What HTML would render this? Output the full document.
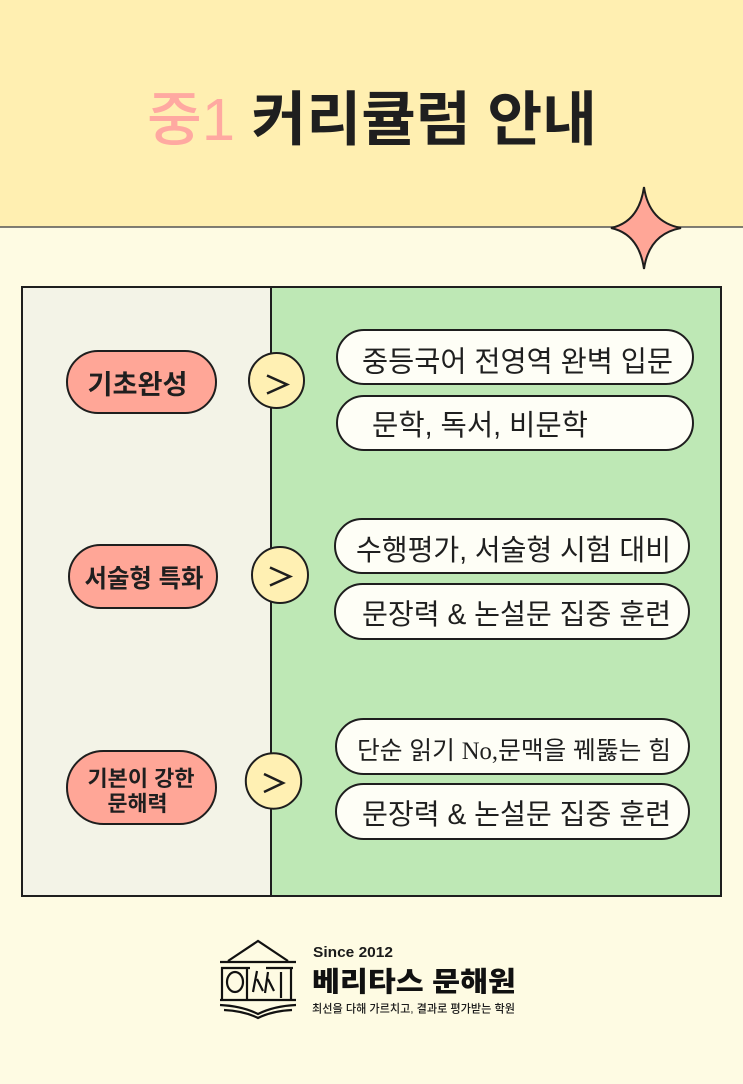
<!DOCTYPE html>
<html><head><meta charset="utf-8"><style>
html,body{margin:0;padding:0;width:743px;height:1084px;overflow:hidden;background:#FEFBE3}
svg{display:block}
text{font-family:"Liberation Sans","Noto Sans CJK KR",sans-serif}
</style></head><body>
<svg width="743" height="1084" viewBox="0 0 743 1084" xmlns="http://www.w3.org/2000/svg">
<rect x="0" y="0" width="743" height="1084" fill="#FEFBE3"/>
<rect x="0" y="0" width="743" height="227" fill="#FFEFB1"/>
<line x1="0" y1="227" x2="743" y2="227" stroke="#555" stroke-width="1.5"/>

<text x="147" y="140" font-size="59" textLength="450" lengthAdjust="spacingAndGlyphs"><tspan fill="#FFA9A1" font-weight="500">중1</tspan><tspan fill="#1f1f1f" font-weight="700"> 커리큘럼 안내</tspan></text>

<path d="M644,187 Q649,222 681,228 Q649,234 644,269 Q639,234 611,228 Q639,222 644,187 Z" fill="#FFA697" stroke="#1e1e1e" stroke-width="2" stroke-linejoin="miter"/>

<rect x="22" y="287" width="249" height="609" fill="#F3F3E7"/>
<rect x="271" y="287" width="450" height="609" fill="#BEE8B5"/>
<rect x="22" y="287" width="699" height="609" fill="none" stroke="#1e1e1e" stroke-width="2"/>
<line x1="271" y1="287" x2="271" y2="896" stroke="#1e1e1e" stroke-width="2"/>

<g fill="#FFA697" stroke="#1e1e1e" stroke-width="2">
<rect x="67" y="351" width="149" height="62" rx="31"/>
<rect x="69" y="545" width="148" height="63" rx="31.5"/>
<rect x="67" y="751" width="149" height="73" rx="36.5"/>
</g>
<g fill="#1f1f1f" font-weight="700">
<text x="87.5" y="394" font-size="27" textLength="100" lengthAdjust="spacingAndGlyphs">기초완성</text>
<text x="84.5" y="587" font-size="25" textLength="119" lengthAdjust="spacingAndGlyphs">서술형 특화</text>
<text x="87.5" y="786" font-size="21.5" textLength="107" lengthAdjust="spacingAndGlyphs">기본이 강한</text>
<text x="107.5" y="811" font-size="21.5" textLength="60" lengthAdjust="spacingAndGlyphs">문해력</text>
</g>

<g fill="#FFF0B3" stroke="#1e1e1e" stroke-width="2">
<circle cx="276.5" cy="380.5" r="27.5"/>
<circle cx="280" cy="575" r="28"/>
<circle cx="273.5" cy="781" r="27.7"/>
</g>
<g fill="none" stroke="#1e1e1e" stroke-width="2.5" stroke-linejoin="miter">
<polyline points="267,375.5 287,384.5 267,393.5"/>
<polyline points="270,567.5 290,576.5 270,585.5"/>
<polyline points="264,774 283,783 264,792"/>
</g>

<g fill="#FEFEF6" stroke="#1e1e1e" stroke-width="2">
<rect x="337" y="330" width="356" height="54" rx="27"/>
<rect x="337" y="396" width="356" height="54" rx="27"/>
<rect x="335" y="519" width="354" height="54" rx="27"/>
<rect x="335" y="584" width="354" height="55" rx="27.5"/>
<rect x="336" y="719" width="353" height="55" rx="27.5"/>
<rect x="336" y="784" width="353" height="55" rx="27.5"/>
</g>
<g fill="#1f1f1f" font-weight="400">
<text x="362" y="371.5" font-size="29" textLength="311" lengthAdjust="spacingAndGlyphs">중등국어 전영역 완벽 입문</text>
<text x="372" y="435" font-size="29" textLength="216" lengthAdjust="spacingAndGlyphs">문학, 독서, 비문학</text>
<text x="356" y="560" font-size="29" textLength="315" lengthAdjust="spacingAndGlyphs">수행평가, 서술형 시험 대비</text>
<text x="362" y="624" font-size="28.5" textLength="309" lengthAdjust="spacingAndGlyphs">문장력 &amp; 논설문 집중 훈련</text>
<text x="357" y="759" font-size="25" textLength="314" lengthAdjust="spacingAndGlyphs">단순 읽기 <tspan font-family="Liberation Serif, serif">No,</tspan>문맥을 꿰뚫는 힘</text>
<text x="362" y="824" font-size="28.5" textLength="309" lengthAdjust="spacingAndGlyphs">문장력 &amp; 논설문 집중 훈련</text>
</g>

<g stroke="#111" stroke-width="2.2" fill="none">
<polyline points="228,961 258,941 288,961"/>
<line x1="220" y1="962" x2="296" y2="962"/>
<line x1="221" y1="968" x2="250" y2="968"/>
<line x1="266" y1="968" x2="293" y2="968"/>
<line x1="222" y1="967" x2="222" y2="1000"/>
<ellipse cx="235" cy="982" rx="8" ry="10"/>
<line x1="247" y1="967" x2="247" y2="1000"/>
<path d="M257,971 L253,992 M257,979 L263,991 M268,972 L265,993 M268,979 L274,991"/>
<line x1="281" y1="972" x2="281" y2="998"/>
<line x1="291" y1="967" x2="291" y2="1000"/>
<line x1="220" y1="1000" x2="296" y2="1000"/>
<path d="M220,1005 Q242,1006 258,1014 Q274,1006 296,1005"/>
<path d="M224,1010 Q244,1011 258,1018 Q272,1011 292,1010"/>
</g>

<text x="313" y="957" font-size="14.5" font-weight="700" fill="#1a1a1a" textLength="80" lengthAdjust="spacingAndGlyphs">Since 2012</text>
<text x="312" y="991" font-size="27.5" font-weight="900" fill="#111" textLength="204" lengthAdjust="spacingAndGlyphs">베리타스 문해원</text>
<text x="312" y="1012.5" font-size="11.5" font-weight="500" fill="#1a1a1a" textLength="203" lengthAdjust="spacingAndGlyphs">최선을 다해 가르치고, 결과로 평가받는 학원</text>
</svg>
</body></html>
